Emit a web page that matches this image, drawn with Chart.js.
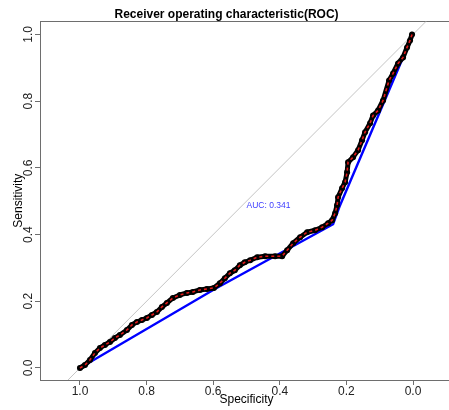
<!DOCTYPE html>
<html lang="en">
<head>
<meta charset="UTF-8" />
<title>Receiver operating characteristic(ROC)</title>
<script src="https://cdn.jsdelivr.net/npm/chart.js@4"></script>
<style>
  html, body { margin: 0; padding: 0; overflow: hidden; background: #fff; }
  canvas { display: block; }
</style>
</head>
<body>
<canvas id="roc" width="494" height="410"></canvas>
<script>
// ROC curve (specificity goes 1 -> 0 on the x axis)
const specificity = [
  1.000, 0.985, 0.970, 0.955, 0.940, 0.925, 0.910, 0.895, 0.880, 0.859,
  0.844, 0.829, 0.814, 0.799, 0.784, 0.769, 0.754, 0.739, 0.721, 0.700,
  0.679, 0.661, 0.640, 0.619, 0.598, 0.580, 0.565, 0.550, 0.535, 0.520,
  0.505, 0.489, 0.468, 0.444, 0.414, 0.393, 0.378, 0.360, 0.339, 0.318,
  0.294, 0.273, 0.255, 0.243, 0.234, 0.228, 0.225, 0.213, 0.204, 0.198,
  0.195, 0.180, 0.165, 0.153, 0.144, 0.129, 0.120, 0.105, 0.090, 0.072,
  0.060, 0.045, 0.030, 0.018, 0.009, 0.003
];
const sensitivity = [
  0.000, 0.009, 0.024, 0.045, 0.060, 0.069, 0.078, 0.090, 0.099, 0.114,
  0.129, 0.138, 0.144, 0.150, 0.159, 0.168, 0.183, 0.195, 0.210, 0.219,
  0.225, 0.228, 0.234, 0.237, 0.240, 0.254, 0.269, 0.284, 0.293, 0.308,
  0.317, 0.323, 0.332, 0.335, 0.335, 0.335, 0.353, 0.374, 0.392, 0.407,
  0.413, 0.422, 0.434, 0.443, 0.464, 0.488, 0.512, 0.539, 0.557, 0.587,
  0.617, 0.632, 0.653, 0.683, 0.707, 0.734, 0.757, 0.772, 0.802, 0.862,
  0.883, 0.913, 0.931, 0.961, 0.982, 1.000
];

// blue outline under the curve
const hullSpecificity = [1.000, 0.595, 0.240, 0.219, 0.039, 0.000];
const hullSensitivity = [0.000, 0.237, 0.431, 0.488, 0.910, 1.000];

// chance line (sensitivity = 1 - specificity)
const chanceSpecificity = [1.2, -0.2];
const chanceSensitivity = [-0.2, 1.2];

const tickValues = [0, 0.2, 0.4, 0.6, 0.8, 1.0];
const aucLabel = 'AUC: 0.341';
const aucAt = [0.5, 0.5];

const FONT = '"Liberation Sans", Arial, sans-serif';
const AXIS = '#6e6e6e';

const toXY = (xs, ys) => xs.map((v, i) => ({ x: v, y: ys[i] }));
const setTicks = scale => { scale.ticks = tickValues.map(v => ({ value: v })); };

const aucText = {
  id: 'aucText',
  afterDatasetsDraw(chart) {
    const { ctx, scales } = chart;
    ctx.save();
    ctx.font = '8.5px ' + FONT;
    ctx.fillStyle = '#3c3cff';
    ctx.textAlign = 'left';
    ctx.textBaseline = 'top';
    ctx.fillText(aucLabel, scales.x.getPixelForValue(aucAt[0]), scales.y.getPixelForValue(aucAt[1]));
    ctx.restore();
  }
};

new Chart(document.getElementById('roc'), {
  type: 'scatter',
  data: {
    datasets: [
      {
        label: 'roc dashed',
        data: toXY(specificity, sensitivity),
        showLine: true,
        borderColor: '#e31a1a',
        borderWidth: 1.6,
        borderDash: [3, 3],
        pointRadius: 0,
        order: 0
      },
      {
        label: 'roc points',
        data: toXY(specificity, sensitivity),
        showLine: true,
        borderColor: '#000',
        borderWidth: 5,
        borderJoinStyle: 'round',
        borderCapStyle: 'round',
        pointRadius: 3,
        pointBorderWidth: 0,
        pointBackgroundColor: '#000',
        order: 1
      },
      {
        label: 'hull',
        data: toXY(hullSpecificity, hullSensitivity),
        showLine: true,
        borderColor: '#0000ff',
        borderWidth: 2.4,
        pointRadius: 0,
        order: 2
      },
      {
        label: 'chance',
        data: toXY(chanceSpecificity, chanceSensitivity),
        showLine: true,
        borderColor: '#c4c4c4',
        borderWidth: 1,
        pointRadius: 0,
        clip: 0,
        order: 3
      }
    ]
  },
  options: {
    responsive: false,
    animation: false,
    layout: { padding: { left: 0, right: 41, top: 0, bottom: 0 } },
    plugins: {
      legend: { display: false },
      tooltip: { enabled: false },
      title: {
        display: true,
        text: 'Receiver operating characteristic(ROC)',
        color: '#000',
        font: { family: FONT, size: 12, weight: 'bold' },
        padding: { top: 7, bottom: 0 }
      }
    },
    scales: {
      x: {
        type: 'linear',
        position: 'bottom',
        min: -0.12,
        max: 1.12,
        reverse: true,
        afterBuildTicks: setTicks,
        afterFit: s => { s.height = 30; },
        grid: { drawOnChartArea: false, drawTicks: true, tickLength: 5, color: AXIS },
        border: { color: AXIS, width: 1 },
        ticks: {
          color: '#222',
          padding: -1,
          maxRotation: 0,
          font: { family: FONT, size: 12 },
          callback: v => v.toFixed(1)
        },
        title: {
          display: true,
          text: 'Specificity',
          color: '#000',
          font: { family: FONT, size: 12 },
          padding: { top: 0, bottom: 3 }
        }
      },
      xTop: {
        type: 'linear',
        position: 'top',
        min: -0.12,
        max: 1.12,
        reverse: true,
        afterFit: s => { s.height = 0; },
        grid: { drawOnChartArea: false, drawTicks: false },
        border: { color: AXIS, width: 1 },
        ticks: { display: false }
      },
      y: {
        type: 'linear',
        position: 'left',
        min: -0.036,
        max: 1.039,
        afterBuildTicks: setTicks,
        afterFit: s => { s.width = 40; },
        grid: { drawOnChartArea: false, drawTicks: true, tickLength: 5, color: AXIS },
        border: { color: AXIS, width: 1 },
        ticks: {
          color: '#222',
          padding: -2.4,
          minRotation: 90,
          maxRotation: 90,
          crossAlign: 'center',
          font: { family: FONT, size: 12 },
          callback: v => v.toFixed(1)
        },
        title: {
          display: true,
          text: 'Sensitivity',
          color: '#000',
          font: { family: FONT, size: 12 },
          padding: { top: 11, bottom: 0 }
        }
      }
    }
  },
  plugins: [aucText]
});
</script>
</body>
</html>
